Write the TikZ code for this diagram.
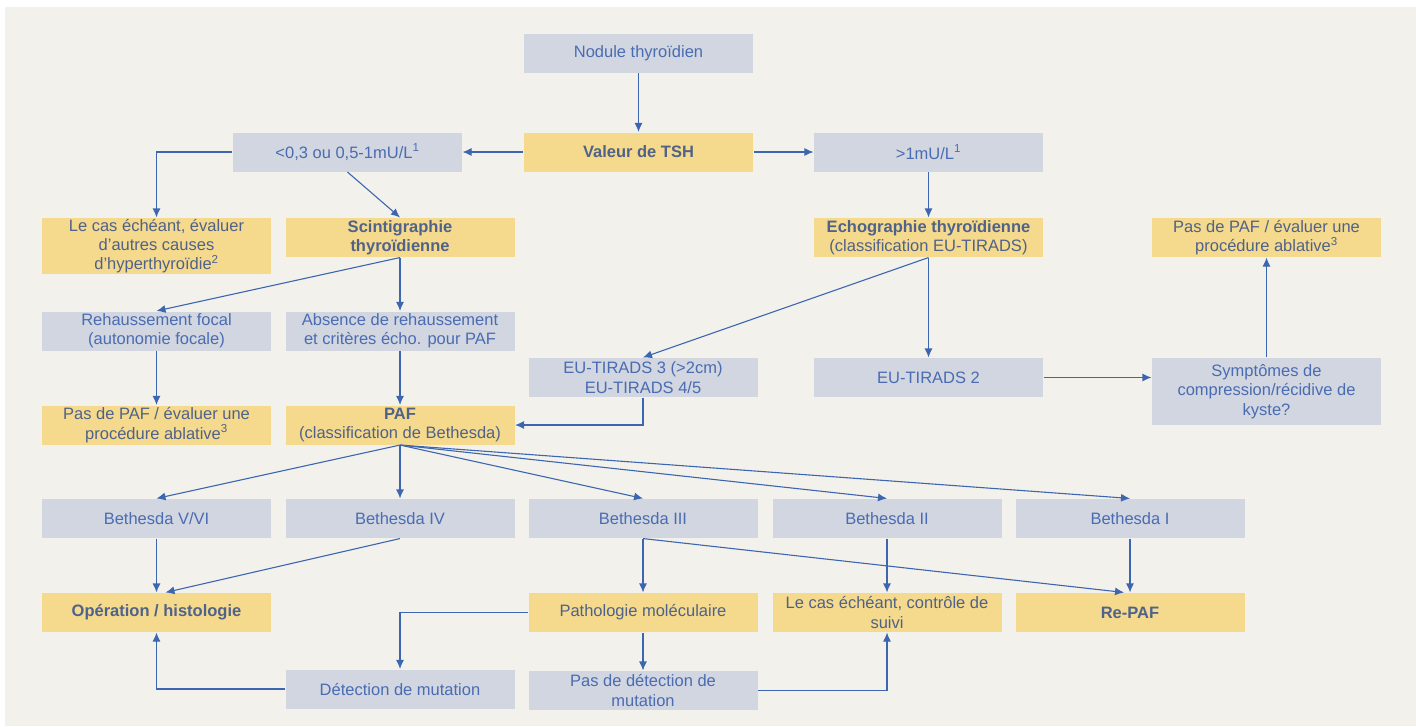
\documentclass[tikz,border=0pt]{standalone}
\usepackage{fontspec}
\setmainfont{Liberation Sans}
\usetikzlibrary{arrows.meta}
\definecolor{bgcol}{HTML}{F3F1EC}
\definecolor{greyfill}{HTML}{D1D6E0}
\definecolor{yellowfill}{HTML}{F5D98C}
\definecolor{greytext}{HTML}{4A6CB2}
\definecolor{yellowtext}{HTML}{4F6289}
\definecolor{arrowcol}{HTML}{3D66B0}
\tikzset{
	box/.style={rectangle,minimum width=229pt,minimum height=39pt,inner sep=0pt,align=center,
		font=\fontsize{16.5}{19.3}\selectfont},
	greybox/.style={box,fill=greyfill,text=greytext},
	yellowbox/.style={box,fill=yellowfill,text=yellowtext},
}

\begin{document}
\begin{tikzpicture}[x=1pt,y=-1pt,>={Latex[length=9pt,width=8pt]},color=arrowcol,line width=1.1pt]
	\fill[white] (0,0) rectangle (1416,726);
	\fill[bgcol] (5,7) rectangle (1416,726);

	\node[greybox] (nodule) at (638.5,53) {Nodule thyroïdien};
	\node[yellowbox] (tsh) at (638.5,152) {\textbf{Valeur de TSH}};
	\node[greybox] (low) at (347.5,152) {<0,3 ou 0,5-1mU/L\textsuperscript{1}};
	\node[greybox] (high) at (928.5,152) {>1mU/L\textsuperscript{1}};

	\node[yellowbox,minimum height=56pt] (hyper) at (156.5,246) {Le cas échéant, évaluer\\d'autres causes\\d'hyperthyroïdie\textsuperscript{2}};
	\node[yellowbox] (scinti) at (400,237.5) {\textbf{Scintigraphie}\\\textbf{thyroïdienne}};
	\node[yellowbox] (echo) at (928.5,237.5) {\textbf{Echographie thyroïdienne}\\(classification EU-TIRADS)};
	\node[yellowbox] (nopafR) at (1266.5,237.5) {Pas de PAF / évaluer une\\procédure ablative\textsuperscript{3}};

	\node[greybox] (focal) at (156.5,331) {Rehaussement focal\\(autonomie focale)};
	\node[greybox] (absence) at (400,331) {Absence de rehaussement\\et critères écho. pour PAF};
	\node[greybox] (tirads3) at (643,377.5) {EU-TIRADS 3 (>2cm)\\EU-TIRADS 4/5};
	\node[greybox] (tirads2) at (928.5,377.5) {EU-TIRADS 2};
	\node[greybox,minimum height=67pt] (sympt) at (1266.5,391.5) {Symptômes de\\compression/récidive de\\kyste?};

	\node[yellowbox] (nopafL) at (156.5,425) {Pas de PAF / évaluer une\\procédure ablative\textsuperscript{3}};
	\node[yellowbox] (paf) at (400,425) {\textbf{PAF}\\(classification de Bethesda)};

	\node[greybox] (b56) at (156.5,518.5) {Bethesda V/VI};
	\node[greybox] (b4) at (400,518.5) {Bethesda IV};
	\node[greybox] (b3) at (643,518.5) {Bethesda III};
	\node[greybox] (b2) at (887,518.5) {Bethesda II};
	\node[greybox] (b1) at (1130,518.5) {Bethesda I};

	\node[yellowbox] (oper) at (156.5,612.5) {\textbf{Opération / histologie}};
	\node[yellowbox] (patho) at (643,612.5) {Pathologie moléculaire};
	\node[yellowbox] (ctrl) at (887,612.5) {Le cas échéant, contrôle de\\suivi};
	\node[yellowbox] (repaf) at (1130,612.5) {\textbf{Re-PAF}};

	\node[greybox] (detect) at (400,689) {Détection de mutation};
	\node[greybox] (nodetect) at (643,690.5) {Pas de détection de\\mutation};

	\draw[->] (nodule) -- (tsh);
	\draw[->] (tsh) -- (low);
	\draw[->] (tsh) -- (high);
	\draw[->] (low.west) -| (hyper.north);
	\draw[->] (low.south) -- (scinti.north);
	\draw[->] (high) -- (echo);
	\draw[->] (scinti.south) -- (focal.north);
	\draw[->] (scinti) -- (absence);
	\draw[->] (echo.south) -- (tirads3.north);
	\draw[->] (echo) -- (tirads2);
	\draw[->] (tirads3.south) |- (paf.east);
	\draw[->] (tirads2.east) -- (tirads2.east -| sympt.west);
	\draw[->] (sympt) -- (nopafR);
	\draw[->] (focal) -- (nopafL);
	\draw[->] (absence) -- (paf);
	\foreach \b in {b56,b4,b3,b2,b1}
		\draw[->] (paf.south) -- (\b.north);
	\draw[->] (b56) -- (oper);
	\draw[->] (b4.south) -- ([xshift=9pt]oper.north);
	\draw[->] (b3) -- (patho);
	\draw[->] (b3.south) -- ([xshift=-6pt]repaf.north);
	\draw[->] (b2) -- (ctrl);
	\draw[->] (b1) -- (repaf);
	\draw[->] (patho.west) -| (detect.north);
	\draw[->] (patho) -- (nodetect);
	\draw[->] (detect.west) -| (oper.south);
	\draw[->] (nodetect.east) -| (ctrl.south);
\end{tikzpicture}
\end{document}
